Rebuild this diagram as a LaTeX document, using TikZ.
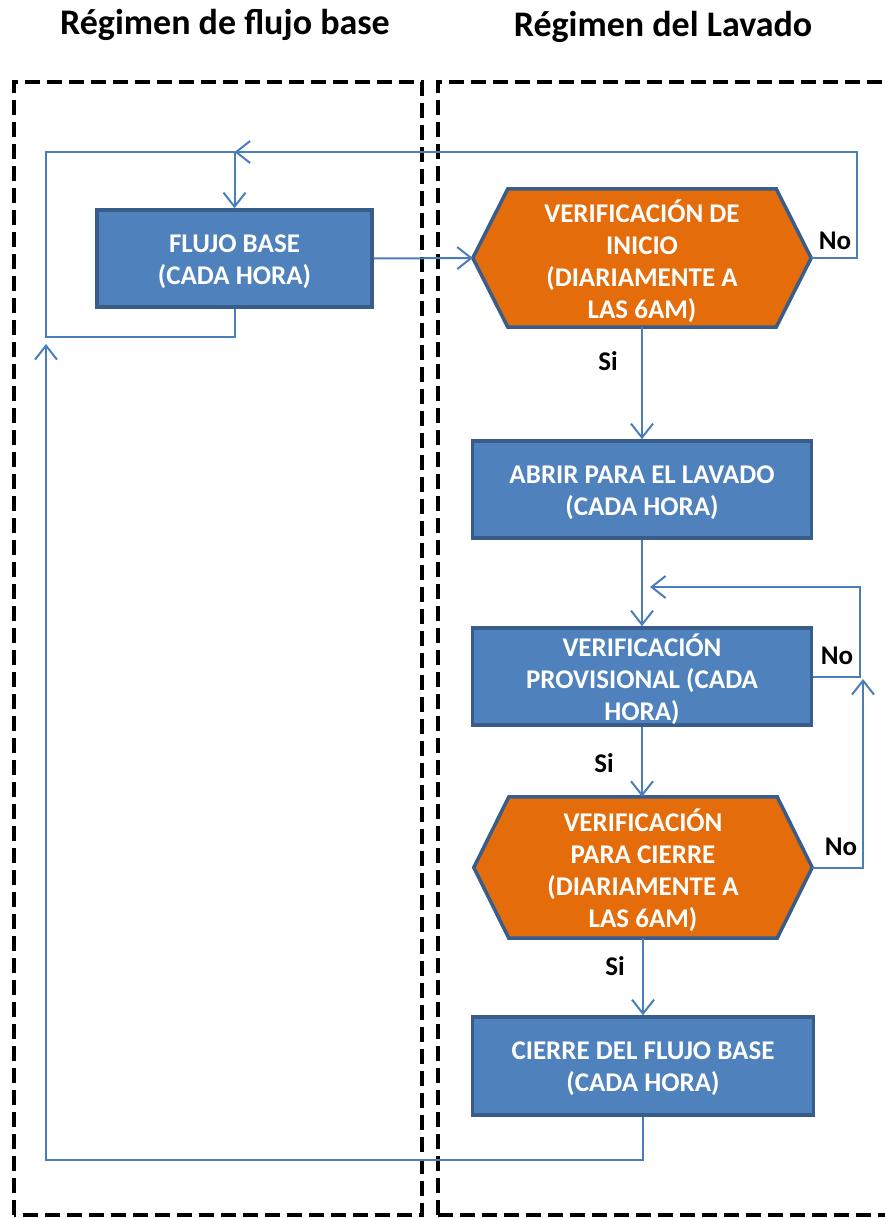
\documentclass[tikz,border=0pt]{standalone}
\usepackage{fontspec}
\setmainfont{Carlito}
\usetikzlibrary{arrows.meta,backgrounds}
\definecolor{boxblue}{HTML}{4F81BD}
\definecolor{boxedge}{HTML}{385D8A}
\definecolor{hexorange}{HTML}{E46C0A}
\definecolor{wire}{HTML}{4A7EBB}
\newcommand{\boxfont}{\fontsize{27}{32}\selectfont\bfseries}
\newcommand{\titlefont}{\fontsize{36}{40}\selectfont\bfseries}
\begin{document}
\begin{tikzpicture}[x=1pt,y=-1pt,
  procbox/.style={rectangle, fill=boxblue, draw=boxedge, line width=3.5pt, inner sep=0pt},
  hexbox/.style={rectangle, inner sep=0pt},
  inscr/.style={text=white, font=\boxfont, align=center, inner sep=0pt, yshift=-3pt},
  hexshape/.style={fill=hexorange, draw=boxedge, line width=3.5pt, line join=miter},
  lane/.style={draw=black, line width=4.5pt, dash pattern=on 15pt off 7pt},
  wireline/.style={draw=wire, line width=2pt},
  flow/.style={wireline, -{Straight Barb[length=14pt,width=22pt]}},
  tag/.style={font=\boxfont, text=black, inner sep=0pt},
  title/.style={font=\titlefont, text=black, inner sep=0pt, anchor=base}]

\useasboundingbox (0,0) rectangle (884,1218);
\clip (0,0) rectangle (884,1218);

% lane headings
\node[title] (t1) at (225,34) {Régimen de flujo base};
\node[title] (t2) at (663,36) {Régimen del Lavado};

% process boxes and decisions
\node[procbox, minimum width=275pt, minimum height=97pt,
  label={[inscr]center:FLUJO BASE\\(CADA HORA)}] (flujo) at (234.5,258.5) {};
\node[hexbox, minimum width=338pt, minimum height=138pt,
  label={[inscr]center:VERIFICACIÓN DE\\INICIO\\(DIARIAMENTE A\\LAS 6AM)}] (h1) at (642,258) {};
\node[procbox, minimum width=339pt, minimum height=97pt,
  label={[inscr]center:ABRIR PARA EL LAVADO\\(CADA HORA)}] (abrir) at (642,489.5) {};
\node[procbox, minimum width=339pt, minimum height=97pt,
  label={[inscr]center:VERIFICACIÓN\\PROVISIONAL (CADA\\HORA)}] (prov) at (642,676.5) {};
\node[hexbox, minimum width=338pt, minimum height=141pt,
  label={[inscr]center:VERIFICACIÓN\\PARA CIERRE\\(DIARIAMENTE A\\LAS 6AM)}] (h2) at (643,867.5) {};
\node[procbox, minimum width=341pt, minimum height=98pt,
  label={[inscr]center:CIERRE DEL FLUJO BASE\\(CADA HORA)}] (cierre) at (643,1066) {};

\begin{pgfonlayer}{background}
  % dashed swimlanes
  \draw[lane] (14,1215) -- (14,82) -- (422,82) -- (422,1215) -- cycle;
  \draw[lane] (438,1215) -- (438,82) -- (900,82);
  \draw[lane] (438,1215) -- (900,1215);
  % decision hexagons
  \draw[hexshape] (h1.west) -- ([xshift=35pt]h1.north west) -- ([xshift=-35pt]h1.north east)
    -- (h1.east) -- ([xshift=-35pt]h1.south east) -- ([xshift=35pt]h1.south west) -- cycle;
  \draw[hexshape] (h2.west) -- ([xshift=35pt]h2.north west) -- ([xshift=-35pt]h2.north east)
    -- (h2.east) -- ([xshift=-35pt]h2.south east) -- ([xshift=35pt]h2.south west) -- cycle;
\end{pgfonlayer}

% routing points
\coordinate (topjoin) at (234.5,152);
\coordinate (topright) at (857,152);
\coordinate (loopdown) at (46,337);
\coordinate (loopup) at (46,152);
\coordinate (provcorner) at (860,587);
\coordinate (provret) at (650,587);
\coordinate (hexup) at (863,679);
\coordinate (botleft) at (46,1160);
\coordinate (backup) at (46,344);

% connectors
\draw[flow] (flujo.east) -- (h1.west);
\draw[flow] (h1.east) -| (topright) -- (topjoin);
\draw[wireline] (flujo.south) |- (loopdown) -- (loopup) -- (topjoin);
\draw[flow] (topjoin) -- (flujo.north);
\draw[flow] (h1.south) -- (abrir.north);
\draw[flow] (abrir.south) -- (prov.north);
\draw[flow] (prov.east) -| (provcorner) -- (provret);
\draw[flow] (prov.south) -- (prov.south |- h2.north);
\draw[flow] (h2.east) -| (hexup);
\draw[flow] (h2.south) -- (cierre.north);
\draw[flow] (cierre.south) |- (botleft) -- (backup);

% branch labels
\node[tag] (no1) at (835,241) {No};
\node[tag] (si1) at (608,361) {Si};
\node[tag] (no2) at (837,656) {No};
\node[tag] (si2) at (604,763) {Si};
\node[tag] (no3) at (841,847) {No};
\node[tag] (si3) at (615,966) {Si};
\end{tikzpicture}
\end{document}
